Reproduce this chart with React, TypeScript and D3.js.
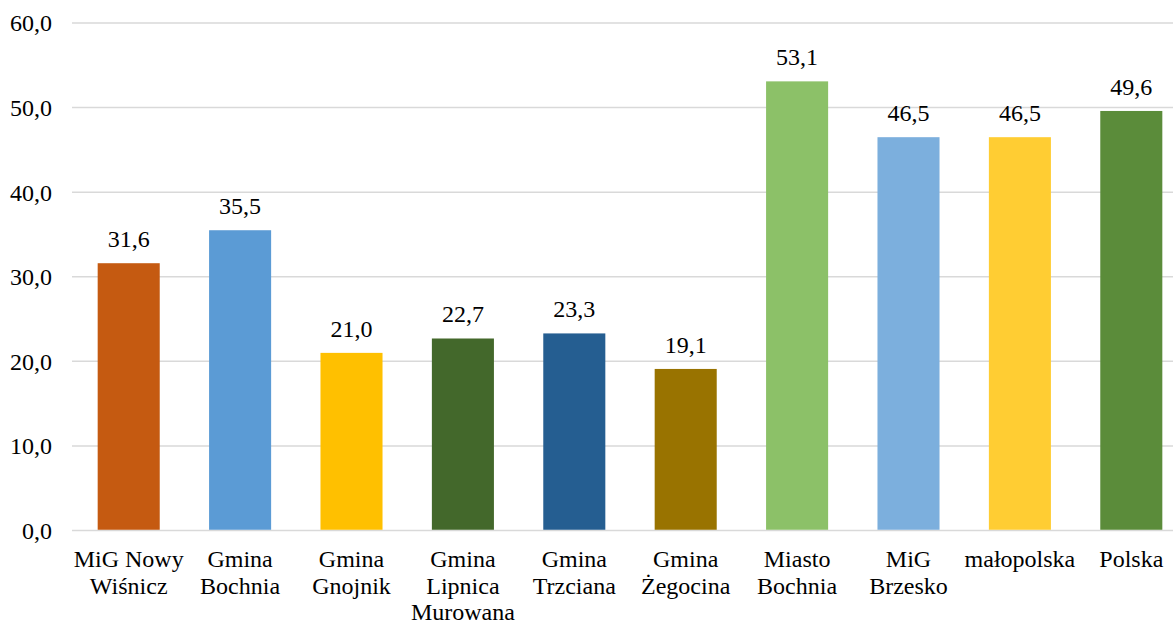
import React from "react";
import * as d3 from "d3";

const categories: string[] = [
  "MiG Nowy\nWiśnicz",
  "Gmina\nBochnia",
  "Gmina\nGnojnik",
  "Gmina\nLipnica\nMurowana",
  "Gmina\nTrzciana",
  "Gmina\nŻegocina",
  "Miasto\nBochnia",
  "MiG\nBrzesko",
  "małopolska",
  "Polska",
];
const values: number[] = [31.6, 35.5, 21.0, 22.7, 23.3, 19.1, 53.1, 46.5, 46.5, 49.6];
const colors: string[] = [
  "#C55A11", "#5B9BD5", "#FFC000", "#43682B", "#255E91",
  "#997300", "#8CC168", "#7CAFDD", "#FFCD33", "#5B8C3A",
];
const yTicks: number[] = [0, 10, 20, 30, 40, 50, 60];

const W = 1173;
const H = 624;
const left = 73;
const step = 111.4;
const top = 23;
const bottom = 530.5;
const font = "Liberation Serif, Times New Roman, serif";

export default function App() {
  const x = d3
    .scaleBand<number>()
    .domain(categories.map((_, i) => i))
    .range([left, left + step * categories.length])
    .paddingInner(0.443)
    .paddingOuter(0.2215);
  const y = d3.scaleLinear().domain([0, 60]).range([bottom, top]);
  const fmt = (v: number) => v.toFixed(1).replace(".", ",");
  const textStyle = { fontFamily: font, fontSize: "24px" };

  return (
    <svg
      width={W}
      height={H}
      style={{ position: "absolute", left: 0, top: 0, display: "block", background: "#fff", fontFamily: font }}
    >
      {yTicks.map((t) => (
        <g key={t}>
          <line x1={left - 1} x2={W} y1={y(t)} y2={y(t)} stroke="#D9D9D9" strokeWidth={1.5} />
          <text x={52} y={y(t)} dy="0.35em" textAnchor="end" style={textStyle} fill="#000">
            {fmt(t)}
          </text>
        </g>
      ))}
      {values.map((v, i) => {
        const bx = x(i)!;
        const bw = x.bandwidth();
        return (
          <g key={i}>
            <rect x={bx} y={y(v)} width={bw} height={y(0) - y(v) - 0.75} fill={colors[i]} />
            <text x={bx + bw / 2} y={y(v) - 16} textAnchor="middle" style={textStyle} fill="#000">
              {fmt(v)}
            </text>
          </g>
        );
      })}
      {categories.map((c, i) => {
        const cx = x(i)! + x.bandwidth() / 2;
        return (
          <text key={i} textAnchor="middle" style={textStyle} fill="#000">
            {c.split("\n").map((line, j) => (
              <tspan key={j} x={cx} y={567 + j * 26.5}>
                {line}
              </tspan>
            ))}
          </text>
        );
      })}
    </svg>
  );
}
